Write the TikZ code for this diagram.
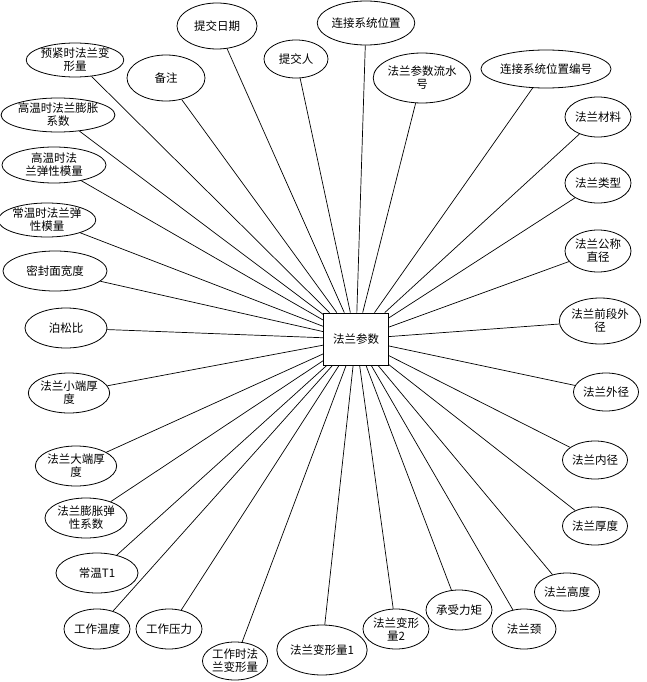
\documentclass[tikz,border=0pt]{standalone}
\usepackage{fontspec}
\setmainfont{Noto Sans CJK SC}
\usetikzlibrary{shapes.geometric}
\begin{document}
\begin{tikzpicture}[x=1pt,y=-1pt,
  attr/.style={draw, ellipse, inner sep=0pt, line width=0.8pt, align=center, font=\fontsize{11.5}{13}\selectfont},
  entity/.style={draw, rectangle, inner sep=0pt, line width=0.8pt, minimum width=65pt, minimum height=52pt, font=\fontsize{11.5}{13}\selectfont},
  link/.style={line width=0.7pt}]
\useasboundingbox (0,0) rectangle (646,682);
\newcommand{\attrnode}[6]{\node[attr, minimum width=#4pt, minimum height=#5pt] (#1) at (#2,#3) {#6};}
\node[entity] (box) at (356,339) {法兰参数};
\attrnode{a1}{217}{26}{80}{46}{提交日期}
\attrnode{a2}{75}{60}{93}{34}{预紧时法兰变\\形量}
\attrnode{a3}{166}{78}{78}{46}{备注}
\attrnode{a4}{296}{59}{64}{38}{提交人}
\attrnode{a5}{58}{115}{97}{34}{高温时法兰膨胀\\系数}
\attrnode{a6}{54}{165}{104}{36}{高温时法\\兰弹性模量}
\attrnode{a7}{47}{220}{92}{34}{常温时法兰弹\\性模量}
\attrnode{a8}{55}{271}{104}{40}{密封面宽度}
\attrnode{a9}{66}{328}{82}{40}{泊松比}
\attrnode{b1}{366}{23}{92}{44}{连接系统位置}
\attrnode{b2}{422}{78}{93}{50}{法兰参数流水\\号}
\attrnode{b3}{546}{69}{126}{38}{连接系统位置编号}
\attrnode{b4}{598}{117}{66}{40}{法兰材料}
\attrnode{b5}{598}{183}{66}{40}{法兰类型}
\attrnode{b6}{598}{251}{66}{42}{法兰公称\\直径}
\attrnode{b7}{600}{321}{70}{46}{法兰前段外\\径}
\attrnode{c1}{69}{393}{80}{40}{法兰小端厚\\度}
\attrnode{c2}{76}{466}{80}{40}{法兰大端厚\\度}
\attrnode{c3}{86}{518}{82}{40}{法兰膨胀弹\\性系数}
\attrnode{c4}{97}{573}{82}{40}{常温T1}
\attrnode{c5}{97}{629}{66}{40}{工作温度}
\attrnode{c6}{169}{629}{66}{40}{工作压力}
\attrnode{c7}{235}{661}{64}{38}{工作时法\\兰变形量}
\attrnode{c8}{322}{650}{82}{50}{法兰变形量1}
\attrnode{d1}{606}{392}{64}{38}{法兰外径}
\attrnode{d2}{595}{460}{64}{38}{法兰内径}
\attrnode{d3}{595}{526}{64}{38}{法兰厚度}
\attrnode{d4}{567}{592}{64}{38}{法兰高度}
\attrnode{d5}{524}{629}{64}{40}{法兰颈}
\attrnode{d6}{459}{610}{66}{40}{承受力矩}
\attrnode{d7}{396}{629}{66}{40}{法兰变形\\量2}
\foreach \n in {a1,a2,a3,a4,a5,a6,a7,a8,a9,b1,b2,b3,b4,b5,b6,b7,c1,c2,c3,c4,c5,c6,c7,c8,d1,d2,d3,d4,d5,d6,d7}
  \draw[link] (\n) -- (box);
\end{tikzpicture}
\end{document}
